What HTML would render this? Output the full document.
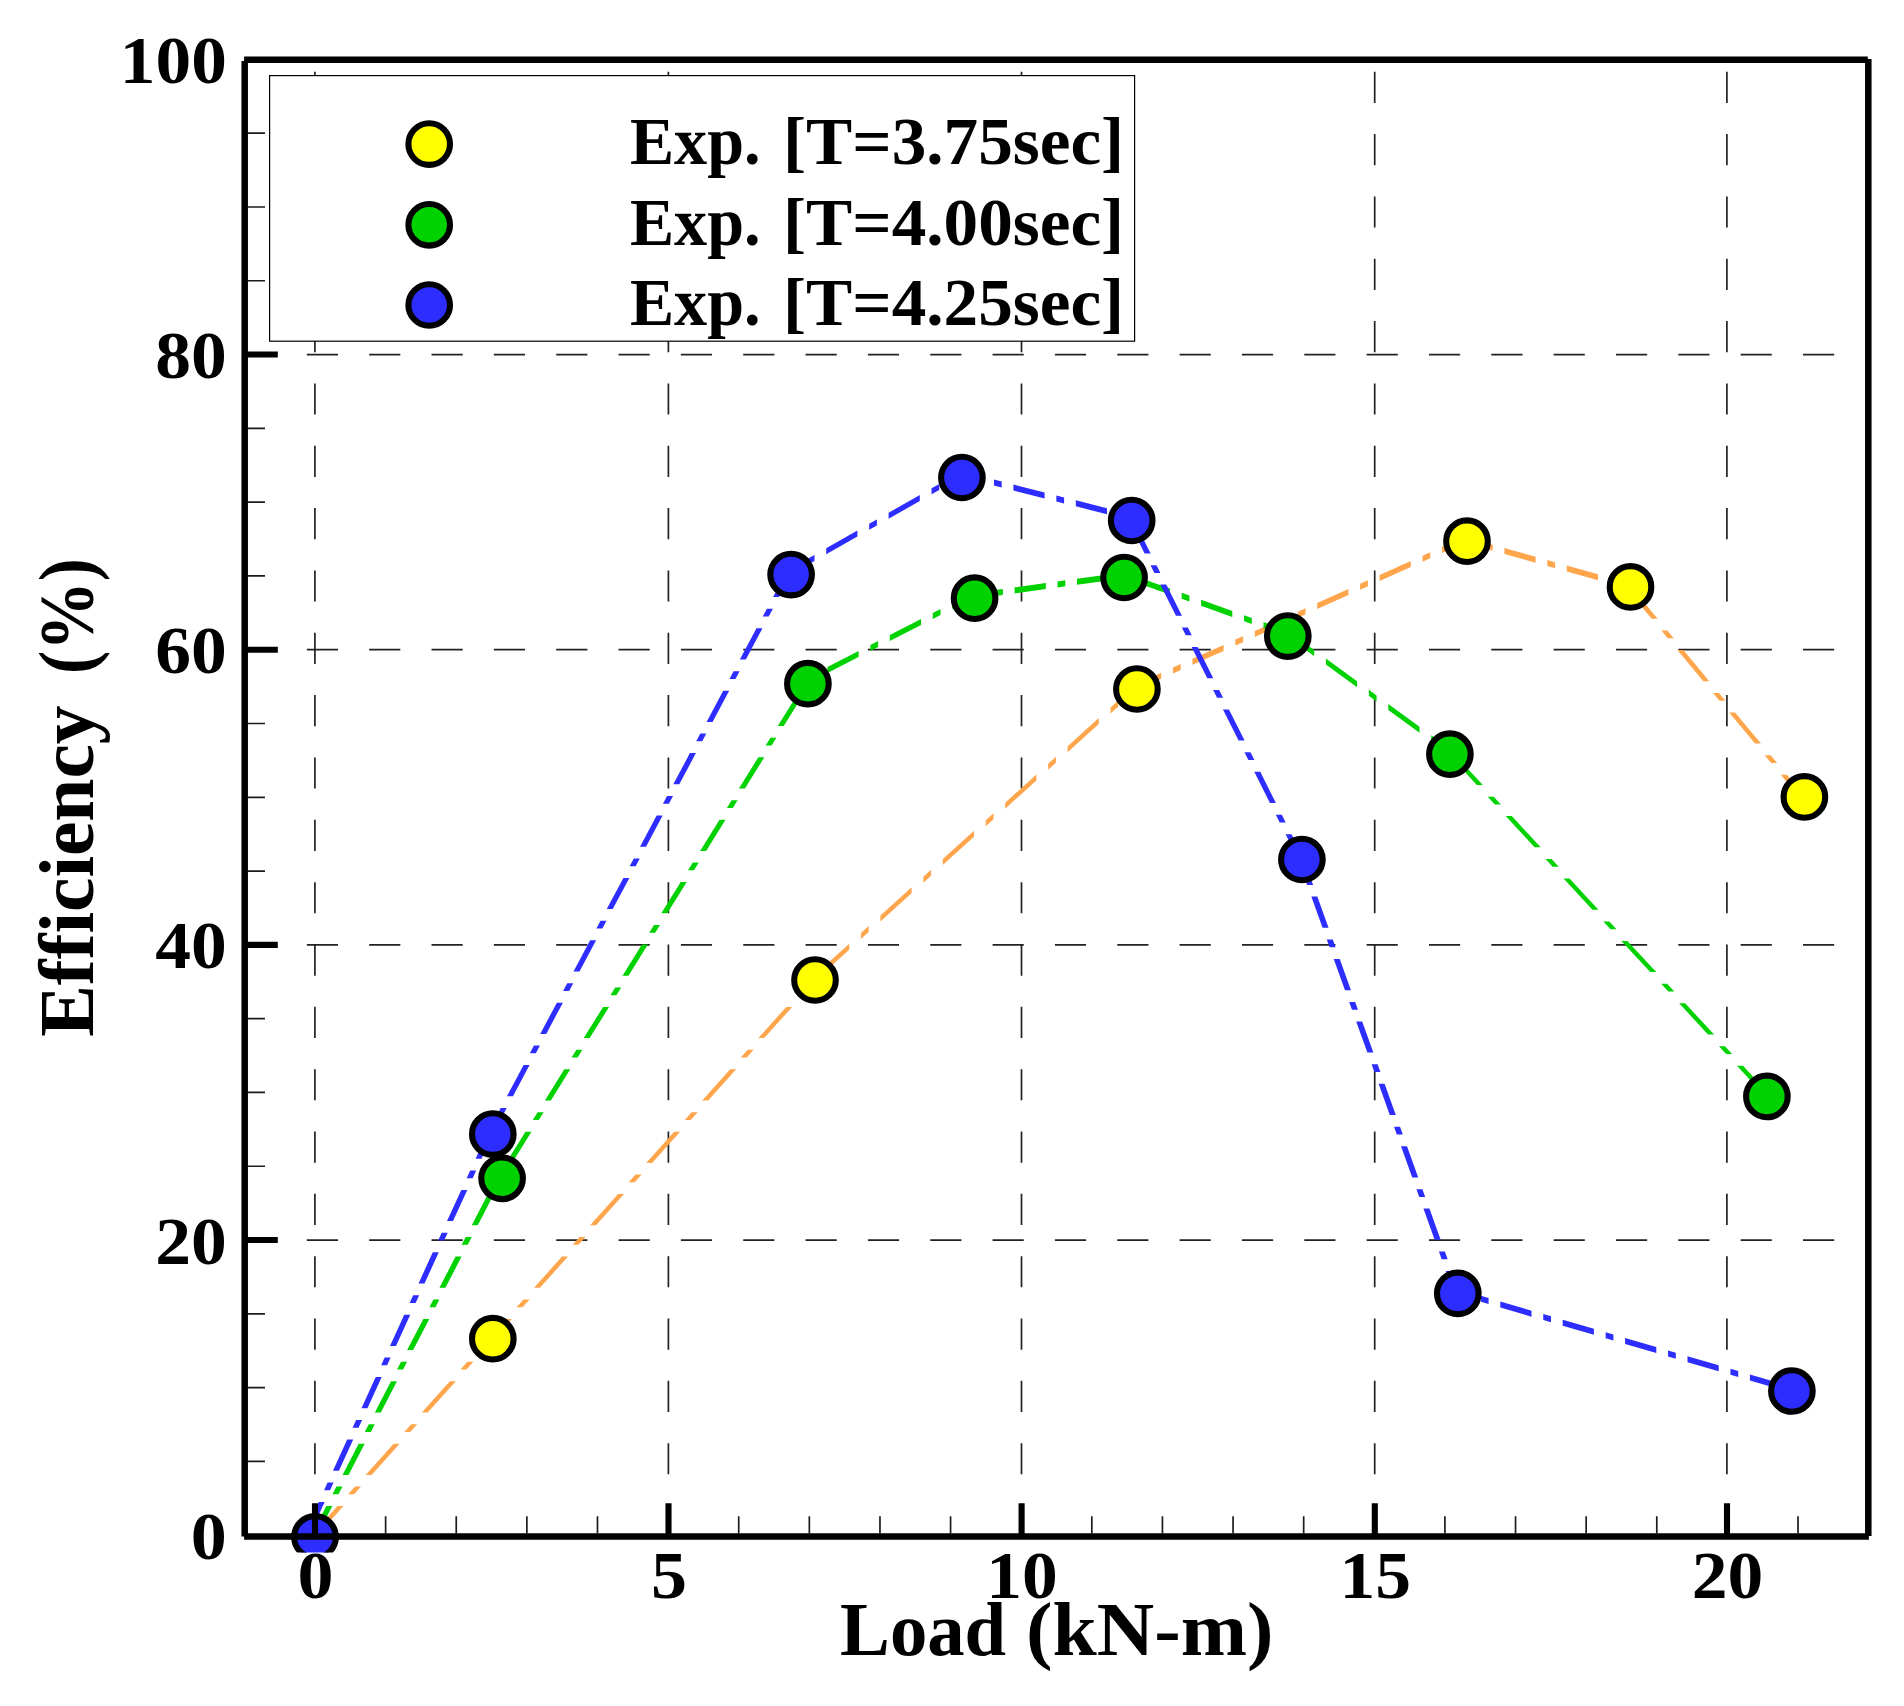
<!DOCTYPE html>
<html lang="en"><head><meta charset="utf-8"><title>Efficiency vs Load</title>
<style>html,body{margin:0;padding:0;background:#fff}svg{display:block}text{font-family:"Liberation Serif",serif;font-weight:bold;fill:#000;font-variant-ligatures:none}</style>
</head><body>
<svg width="1904" height="1706" viewBox="0 0 1904 1706">
<rect width="1904" height="1706" fill="#fff"/>
<g stroke="#222" stroke-width="1.7" fill="none">
<line x1="314.9" y1="1536.7" x2="314.9" y2="60.0" stroke-dasharray="31.17 31.17"/>
<line x1="668.4" y1="1536.7" x2="668.4" y2="60.0" stroke-dasharray="31.17 31.17"/>
<line x1="1021.5" y1="1536.7" x2="1021.5" y2="60.0" stroke-dasharray="31.17 31.17"/>
<line x1="1374.7" y1="1536.7" x2="1374.7" y2="60.0" stroke-dasharray="31.17 31.17"/>
<line x1="1726.9" y1="1536.7" x2="1726.9" y2="60.0" stroke-dasharray="31.17 31.17"/>
<line x1="244.5" y1="1240.04" x2="1864" y2="1240.04" stroke-dasharray="31.17 31.17"/>
<line x1="244.5" y1="944.88" x2="1864" y2="944.88" stroke-dasharray="31.17 31.17"/>
<line x1="244.5" y1="649.72" x2="1864" y2="649.72" stroke-dasharray="31.17 31.17"/>
<line x1="244.5" y1="354.56" x2="1864" y2="354.56" stroke-dasharray="31.17 31.17"/>
</g>
<defs><clipPath id="mclip"><rect x="0" y="0" width="1904" height="1552.6"/></clipPath></defs>
<g clip-path="url(#mclip)">
<path fill="#FFA64D" d="M310.4 1536.2L316.4 1536.2L343.5 1506.1L337.5 1506.1ZM348.08 1494.35L354.08 1494.35L361.05 1486.6L355.05 1486.6ZM365.59 1474.9L371.59 1474.9L399.67 1443.7L393.67 1443.7ZM404.25 1431.95L410.25 1431.95L417.23 1424.2L411.23 1424.2ZM421.76 1412.5L427.76 1412.5L455.85 1381.3L449.85 1381.3ZM460.43 1369.55L466.43 1369.55L473.4 1361.8L467.4 1361.8ZM477.94 1350.1L483.94 1350.1L494.2 1338.7L488.2 1338.7ZM488.2 1338.7L494.2 1338.7L511.99 1318.9L505.99 1318.9ZM516.54 1307.15L522.54 1307.15L529.5 1299.4L523.5 1299.4ZM534.01 1287.7L540.01 1287.7L568.04 1256.5L562.04 1256.5ZM572.59 1244.75L578.59 1244.75L585.55 1237L579.55 1237ZM590.06 1225.3L596.06 1225.3L624.09 1194.1L618.09 1194.1ZM628.64 1182.35L634.64 1182.35L641.6 1174.6L635.6 1174.6ZM646.11 1162.9L652.11 1162.9L680.14 1131.7L674.14 1131.7ZM684.69 1119.95L690.69 1119.95L697.65 1112.2L691.65 1112.2ZM702.16 1100.5L708.16 1100.5L736.19 1069.3L730.19 1069.3ZM740.74 1057.55L746.74 1057.55L753.7 1049.8L747.7 1049.8ZM758.21 1038.1L764.21 1038.1L792.24 1006.9L786.24 1006.9ZM796.79 995.15L802.79 995.15L809.75 987.4L803.75 987.4ZM818 971.89L849.2 943.68L849.2 949.68L818 977.89ZM860.95 933.06L868.7 926.05L868.7 932.05L860.95 939.06ZM880.4 915.48L911.6 887.27L911.6 893.27L880.4 921.48ZM923.35 876.65L931.1 869.64L931.1 875.64L923.35 882.65ZM942.8 859.07L974 830.86L974 836.86L942.8 865.07ZM985.75 820.24L993.5 813.23L993.5 819.23L985.75 826.24ZM1005.2 802.66L1036.4 774.45L1036.4 780.45L1005.2 808.66ZM1048.15 763.83L1055.9 756.82L1055.9 762.82L1048.15 769.83ZM1067.6 746.25L1098.8 718.04L1098.8 724.04L1067.6 752.25ZM1110.55 707.42L1118.3 700.41L1118.3 706.41L1110.55 713.42ZM1130 689.84L1136.9 683.6L1136.9 689.6L1130 695.84ZM1136.9 683.7L1161.2 672.82L1161.2 678.82L1136.9 689.7ZM1172.95 667.56L1180.7 664.09L1180.7 670.09L1172.95 673.56ZM1192.4 658.85L1223.6 644.88L1223.6 650.88L1192.4 664.85ZM1235.35 639.62L1243.1 636.15L1243.1 642.15L1235.35 645.62ZM1254.8 630.91L1286 616.94L1286 622.94L1254.8 636.91ZM1297.75 611.68L1305.5 608.21L1305.5 614.21L1297.75 617.68ZM1317.2 602.97L1348.4 589L1348.4 595L1317.2 608.97ZM1360.15 583.74L1367.9 580.27L1367.9 586.27L1360.15 589.74ZM1379.6 575.03L1410.8 561.06L1410.8 567.06L1379.6 581.03ZM1422.55 555.8L1430.3 552.33L1430.3 558.33L1422.55 561.8ZM1442 547.09L1467 535.9L1467 541.9L1442 553.09ZM1467 537.6L1473.2 539.33L1473.2 545.33L1467 543.6ZM1484.95 542.62L1492.7 544.78L1492.7 550.78L1484.95 548.62ZM1504.4 548.05L1535.6 556.77L1535.6 562.77L1504.4 554.05ZM1547.35 560.06L1555.1 562.22L1555.1 568.22L1547.35 566.06ZM1566.8 565.5L1598 574.22L1598 580.22L1566.8 571.5ZM1609.75 577.5L1617.5 579.67L1617.5 585.67L1609.75 583.5ZM1629.2 582.94L1630.5 583.3L1630.5 589.3L1629.2 588.94ZM1625.78 587.6L1631.78 587.6L1657.62 618.8L1651.62 618.8ZM1661.35 630.55L1667.35 630.55L1673.76 638.3L1667.76 638.3ZM1677.45 650L1683.45 650L1709.29 681.2L1703.29 681.2ZM1713.02 692.95L1719.02 692.95L1725.44 700.7L1719.44 700.7ZM1729.13 712.4L1735.13 712.4L1760.96 743.6L1754.96 743.6ZM1764.69 755.35L1770.69 755.35L1777.11 763.1L1771.11 763.1ZM1780.8 774.8L1786.8 774.8L1805.1 796.9L1799.1 796.9Z"/>
<circle cx="492.8" cy="1338.7" r="20.8" fill="#FFFF00" stroke="#000" stroke-width="6.1"/><circle cx="815" cy="980" r="20.8" fill="#FFFF00" stroke="#000" stroke-width="6.1"/><circle cx="1136.9" cy="689" r="20.8" fill="#FFFF00" stroke="#000" stroke-width="6.1"/><circle cx="1467" cy="541.2" r="20.8" fill="#FFFF00" stroke="#000" stroke-width="6.1"/><circle cx="1630.5" cy="586.9" r="20.8" fill="#FFFF00" stroke="#000" stroke-width="6.1"/><circle cx="1804.4" cy="796.9" r="20.8" fill="#FFFF00" stroke="#000" stroke-width="6.1"/>
<path fill="#00D200" d="M310.8 1536.2L316.8 1536.2L332.38 1506.1L326.38 1506.1ZM332.47 1494.35L338.47 1494.35L342.48 1486.6L336.48 1486.6ZM342.54 1474.9L348.54 1474.9L364.69 1443.7L358.69 1443.7ZM364.77 1431.95L370.77 1431.95L374.79 1424.2L368.79 1424.2ZM374.84 1412.5L380.84 1412.5L397 1381.3L391 1381.3ZM397.08 1369.55L403.08 1369.55L407.09 1361.8L401.09 1361.8ZM407.15 1350.1L413.15 1350.1L429.31 1318.9L423.31 1318.9ZM429.39 1307.15L435.39 1307.15L439.4 1299.4L433.4 1299.4ZM439.46 1287.7L445.46 1287.7L461.61 1256.5L455.61 1256.5ZM461.7 1244.75L467.7 1244.75L471.71 1237L465.71 1237ZM471.77 1225.3L477.77 1225.3L493.92 1194.1L487.92 1194.1ZM494 1182.35L500 1182.35L502.1 1178.3L496.1 1178.3ZM496.5 1178.3L502.5 1178.3L504.8 1174.6L498.8 1174.6ZM506.08 1162.9L512.08 1162.9L531.48 1131.7L525.48 1131.7ZM532.79 1119.95L538.79 1119.95L543.61 1112.2L537.61 1112.2ZM544.89 1100.5L550.89 1100.5L570.29 1069.3L564.29 1069.3ZM571.6 1057.55L577.6 1057.55L582.42 1049.8L576.42 1049.8ZM583.69 1038.1L589.69 1038.1L609.1 1006.9L603.1 1006.9ZM610.4 995.15L616.4 995.15L621.22 987.4L615.22 987.4ZM622.5 975.7L628.5 975.7L647.9 944.5L641.9 944.5ZM649.21 932.75L655.21 932.75L660.03 925L654.03 925ZM661.31 913.3L667.31 913.3L686.71 882.1L680.71 882.1ZM688.02 870.35L694.02 870.35L698.84 862.6L692.84 862.6ZM700.12 850.9L706.12 850.9L725.52 819.7L719.52 819.7ZM726.83 807.95L732.83 807.95L737.65 800.2L731.65 800.2ZM738.92 788.5L744.92 788.5L764.33 757.3L758.33 757.3ZM765.63 745.55L771.63 745.55L776.45 737.8L770.45 737.8ZM777.73 726.1L783.73 726.1L803.13 694.9L797.13 694.9ZM807.95 677.07L815.7 673.1L815.7 679.1L807.95 683.07ZM827.4 667.1L858.6 651.1L858.6 657.1L827.4 673.1ZM870.35 645.07L878.1 641.09L878.1 647.09L870.35 651.07ZM889.8 635.09L921 619.09L921 625.09L889.8 641.09ZM932.75 613.06L940.5 609.09L940.5 615.09L932.75 619.06ZM952.2 603.09L974.6 591.6L974.6 597.6L952.2 609.09ZM974.6 592.9L983.4 591.68L983.4 597.68L974.6 598.9ZM995.15 590.05L1002.9 588.98L1002.9 594.98L995.15 596.05ZM1014.6 587.36L1045.8 583.04L1045.8 589.04L1014.6 593.36ZM1057.55 581.41L1065.3 580.34L1065.3 586.34L1057.55 587.41ZM1077 578.72L1108.2 574.4L1108.2 580.4L1077 584.72ZM1119.95 572.77L1124.1 572.2L1124.1 578.2L1119.95 578.77ZM1124.1 572.2L1127 573.24L1127 579.24L1124.1 578.2ZM1138.7 577.43L1169.9 588.6L1169.9 594.6L1138.7 583.43ZM1181.65 592.8L1189.4 595.58L1189.4 601.58L1181.65 598.8ZM1201.1 599.76L1232.3 610.93L1232.3 616.93L1201.1 605.76ZM1244.05 615.14L1251.8 617.91L1251.8 623.91L1244.05 621.14ZM1263.5 622.1L1287.8 630.8L1287.8 636.8L1263.5 628.1ZM1287.8 630.8L1294.7 635.83L1294.7 641.83L1287.8 636.8ZM1306.45 644.39L1314.2 650.03L1314.2 656.03L1306.45 650.39ZM1325.9 658.56L1357.1 681.29L1357.1 687.29L1325.9 664.56ZM1368.85 689.85L1376.6 695.5L1376.6 701.5L1368.85 695.85ZM1388.3 704.02L1419.5 726.75L1419.5 732.75L1388.3 710.02ZM1431.25 735.31L1439 740.96L1439 746.96L1431.25 741.31ZM1448.4 754.2L1454.4 754.2L1482.84 784.9L1476.84 784.9ZM1487.72 796.65L1493.72 796.65L1500.9 804.4L1494.9 804.4ZM1505.74 816.1L1511.74 816.1L1540.64 847.3L1534.64 847.3ZM1545.53 859.05L1551.53 859.05L1558.71 866.8L1552.71 866.8ZM1563.55 878.5L1569.55 878.5L1598.45 909.7L1592.45 909.7ZM1603.33 921.45L1609.33 921.45L1616.51 929.2L1610.51 929.2ZM1621.35 940.9L1627.35 940.9L1656.25 972.1L1650.25 972.1ZM1661.14 983.85L1667.14 983.85L1674.32 991.6L1668.32 991.6ZM1679.16 1003.3L1685.16 1003.3L1714.06 1034.5L1708.06 1034.5ZM1718.94 1046.25L1724.94 1046.25L1732.12 1054L1726.12 1054ZM1736.96 1065.7L1742.96 1065.7L1771.4 1096.4L1765.4 1096.4Z"/>
<circle cx="502.1" cy="1178.3" r="20.8" fill="#00D200" stroke="#000" stroke-width="6.1"/><circle cx="807.9" cy="683.7" r="20.8" fill="#00D200" stroke="#000" stroke-width="6.1"/><circle cx="974.6" cy="598.2" r="20.8" fill="#00D200" stroke="#000" stroke-width="6.1"/><circle cx="1124.1" cy="577.5" r="20.8" fill="#00D200" stroke="#000" stroke-width="6.1"/><circle cx="1287.8" cy="636.1" r="20.8" fill="#00D200" stroke="#000" stroke-width="6.1"/><circle cx="1449.9" cy="754.2" r="20.8" fill="#00D200" stroke="#000" stroke-width="6.1"/><circle cx="1766.9" cy="1096.4" r="20.8" fill="#00D200" stroke="#000" stroke-width="6.1"/>
<path fill="#2D2DFF" d="M304.42 1533.1L310.42 1533.1L324.68 1501.9L318.68 1501.9ZM324.05 1490.15L330.05 1490.15L333.59 1482.4L327.59 1482.4ZM332.94 1470.7L338.94 1470.7L353.2 1439.5L347.2 1439.5ZM352.57 1427.75L358.57 1427.75L362.12 1420L356.12 1420ZM361.46 1408.3L367.46 1408.3L381.72 1377.1L375.72 1377.1ZM381.1 1365.35L387.1 1365.35L390.64 1357.6L384.64 1357.6ZM389.99 1345.9L395.99 1345.9L410.25 1314.7L404.25 1314.7ZM409.62 1302.95L415.62 1302.95L419.16 1295.2L413.16 1295.2ZM418.51 1283.5L424.51 1283.5L438.77 1252.3L432.77 1252.3ZM438.14 1240.55L444.14 1240.55L447.68 1232.8L441.68 1232.8ZM447.03 1221.1L453.03 1221.1L467.29 1189.9L461.29 1189.9ZM466.66 1178.15L472.66 1178.15L476.21 1170.4L470.21 1170.4ZM475.56 1158.7L481.56 1158.7L492.8 1134.1L486.8 1134.1ZM486.8 1134.1L492.8 1134.1L496.32 1127.5L490.32 1127.5ZM496.58 1115.75L502.58 1115.75L506.72 1108L500.72 1108ZM506.95 1096.3L512.95 1096.3L529.59 1065.1L523.59 1065.1ZM529.85 1053.35L535.85 1053.35L539.98 1045.6L533.98 1045.6ZM540.22 1033.9L546.22 1033.9L562.86 1002.7L556.86 1002.7ZM563.12 990.95L569.12 990.95L573.25 983.2L567.25 983.2ZM573.49 971.5L579.49 971.5L596.13 940.3L590.13 940.3ZM596.39 928.55L602.39 928.55L606.52 920.8L600.52 920.8ZM606.76 909.1L612.76 909.1L629.39 877.9L623.39 877.9ZM629.66 866.15L635.66 866.15L639.79 858.4L633.79 858.4ZM640.03 846.7L646.03 846.7L662.66 815.5L656.66 815.5ZM662.93 803.75L668.93 803.75L673.06 796L667.06 796ZM673.3 784.3L679.3 784.3L695.93 753.1L689.93 753.1ZM696.2 741.35L702.2 741.35L706.33 733.6L700.33 733.6ZM706.57 721.9L712.57 721.9L729.2 690.7L723.2 690.7ZM729.47 678.95L735.47 678.95L739.6 671.2L733.6 671.2ZM739.84 659.5L745.84 659.5L762.47 628.3L756.47 628.3ZM762.73 616.55L768.73 616.55L772.87 608.8L766.87 608.8ZM773.1 597.1L779.1 597.1L791.1 574.6L785.1 574.6ZM791.1 568.2L795 565.98L795 571.98L791.1 574.2ZM806.75 559.3L814.5 554.9L814.5 560.9L806.75 565.3ZM826.2 548.25L857.4 530.51L857.4 536.51L826.2 554.25ZM869.15 523.83L876.9 519.42L876.9 525.42L869.15 529.83ZM888.6 512.77L919.8 495.03L919.8 501.03L888.6 518.77ZM931.55 488.35L939.3 483.95L939.3 489.95L931.55 494.35ZM951 477.3L961.9 471.1L961.9 477.1L951 483.3ZM961.9 471.5L982.2 476.64L982.2 482.64L961.9 477.5ZM993.95 479.62L1001.7 481.58L1001.7 487.58L993.95 485.62ZM1013.4 484.54L1044.6 492.44L1044.6 498.44L1013.4 490.54ZM1056.35 495.42L1064.1 497.38L1064.1 503.38L1056.35 501.42ZM1075.8 500.34L1107 508.24L1107 514.24L1075.8 506.34ZM1118.75 511.22L1126.5 513.18L1126.5 519.18L1118.75 517.22ZM1128.95 522.2L1134.95 522.2L1150.62 553.4L1144.62 553.4ZM1150.52 565.15L1156.52 565.15L1160.41 572.9L1154.41 572.9ZM1160.28 584.6L1166.28 584.6L1181.95 615.8L1175.95 615.8ZM1181.85 627.55L1187.85 627.55L1191.74 635.3L1185.74 635.3ZM1191.61 647L1197.61 647L1213.28 678.2L1207.28 678.2ZM1213.17 689.95L1219.17 689.95L1223.07 697.7L1217.07 697.7ZM1222.94 709.4L1228.94 709.4L1244.6 740.6L1238.6 740.6ZM1244.5 752.35L1250.5 752.35L1254.39 760.1L1248.39 760.1ZM1254.27 771.8L1260.27 771.8L1275.93 803L1269.93 803ZM1275.83 814.75L1281.83 814.75L1285.72 822.5L1279.72 822.5ZM1285.6 834.2L1291.6 834.2L1304.3 859.5L1298.3 859.5ZM1298 859.5L1304 859.5L1306.12 865.4L1300.12 865.4ZM1304.34 877.15L1310.34 877.15L1313.13 884.9L1307.13 884.9ZM1311.33 896.6L1317.33 896.6L1328.54 927.8L1322.54 927.8ZM1326.76 939.55L1332.76 939.55L1335.55 947.3L1329.55 947.3ZM1333.75 959L1339.75 959L1350.96 990.2L1344.96 990.2ZM1349.18 1001.95L1355.18 1001.95L1357.97 1009.7L1351.97 1009.7ZM1356.17 1021.4L1362.17 1021.4L1373.38 1052.6L1367.38 1052.6ZM1371.6 1064.35L1377.6 1064.35L1380.39 1072.1L1374.39 1072.1ZM1378.59 1083.8L1384.59 1083.8L1395.8 1115L1389.8 1115ZM1394.02 1126.75L1400.02 1126.75L1402.81 1134.5L1396.81 1134.5ZM1401.01 1146.2L1407.01 1146.2L1418.22 1177.4L1412.22 1177.4ZM1416.44 1189.15L1422.44 1189.15L1425.23 1196.9L1419.23 1196.9ZM1423.43 1208.6L1429.43 1208.6L1440.64 1239.8L1434.64 1239.8ZM1438.86 1251.55L1444.86 1251.55L1447.65 1259.3L1441.65 1259.3ZM1445.85 1271L1451.85 1271L1459.9 1293.4L1453.9 1293.4ZM1457.8 1289.1L1469.1 1292.4L1469.1 1298.4L1457.8 1295.1ZM1480.85 1295.83L1488.6 1298.1L1488.6 1304.1L1480.85 1301.83ZM1500.3 1301.52L1531.5 1310.63L1531.5 1316.63L1500.3 1307.52ZM1543.25 1314.06L1551 1316.33L1551 1322.33L1543.25 1320.06ZM1562.7 1319.74L1593.9 1328.86L1593.9 1334.86L1562.7 1325.74ZM1605.65 1332.29L1613.4 1334.56L1613.4 1340.56L1605.65 1338.29ZM1625.1 1337.97L1656.3 1347.09L1656.3 1353.09L1625.1 1343.97ZM1668.05 1350.52L1675.8 1352.78L1675.8 1358.78L1668.05 1356.52ZM1687.5 1356.2L1718.7 1365.32L1718.7 1371.32L1687.5 1362.2ZM1730.45 1368.75L1738.2 1371.01L1738.2 1377.01L1730.45 1374.75ZM1749.9 1374.43L1781.1 1383.55L1781.1 1389.55L1749.9 1380.43Z"/>
<circle cx="315" cy="1536.9" r="20.8" fill="#2D2DFF" stroke="#000" stroke-width="6.1"/><circle cx="492.8" cy="1134.1" r="20.8" fill="#2D2DFF" stroke="#000" stroke-width="6.1"/><circle cx="791.1" cy="574.6" r="20.8" fill="#2D2DFF" stroke="#000" stroke-width="6.1"/><circle cx="961.9" cy="477.5" r="20.8" fill="#2D2DFF" stroke="#000" stroke-width="6.1"/><circle cx="1131.7" cy="520.5" r="20.8" fill="#2D2DFF" stroke="#000" stroke-width="6.1"/><circle cx="1301.9" cy="859.5" r="20.8" fill="#2D2DFF" stroke="#000" stroke-width="6.1"/><circle cx="1457.8" cy="1293.4" r="20.8" fill="#2D2DFF" stroke="#000" stroke-width="6.1"/><circle cx="1791.9" cy="1391" r="20.8" fill="#2D2DFF" stroke="#000" stroke-width="6.1"/>
</g>
<g stroke="#000" fill="none">
<path stroke-width="6.5" d="M244.7 61.1V1536.6M244.1 59.85H1867.8M1868.3 59.1V1536.1M244.1 1536.4H1868.9"/>
<path stroke-width="6.1" d="M315 1536.4V1503.3M668.5 1536.4V1503.3M1021.6 1536.4V1503.3M1374.8 1536.4V1503.3M1727 1536.4V1503.3M244.75 1240.04H277.8M244.75 944.88H277.8M244.75 649.72H277.8M244.75 354.56H277.8"/>
<path stroke-width="1.7" stroke="#1c1c1c" d="M385.62 1533.4V1516.2M456.24 1533.4V1516.2M526.86 1533.4V1516.2M597.48 1533.4V1516.2M738.72 1533.4V1516.2M809.34 1533.4V1516.2M879.96 1533.4V1516.2M950.58 1533.4V1516.2M1091.82 1533.4V1516.2M1162.44 1533.4V1516.2M1233.06 1533.4V1516.2M1303.68 1533.4V1516.2M1444.92 1533.4V1516.2M1515.54 1533.4V1516.2M1586.16 1533.4V1516.2M1656.78 1533.4V1516.2M1798.02 1533.4V1516.2M247.75 1461.41H265M247.75 1387.62H265M247.75 1313.83H265M247.75 1166.25H265M247.75 1092.46H265M247.75 1018.67H265M247.75 871.09H265M247.75 797.3H265M247.75 723.51H265M247.75 575.93H265M247.75 502.14H265M247.75 428.35H265M247.75 280.77H265M247.75 206.98H265M247.75 133.19H265"/>
</g>
<rect x="269.6" y="75.6" width="865" height="265.6" fill="#fff" stroke="#000" stroke-width="1.2"/>
<circle cx="429.2" cy="144.1" r="20.8" fill="#FFFF00" stroke="#000" stroke-width="6.1"/>
<circle cx="429.2" cy="224.8" r="20.8" fill="#00D200" stroke="#000" stroke-width="6.1"/>
<circle cx="429.2" cy="305" r="20.8" fill="#2D2DFF" stroke="#000" stroke-width="6.1"/>
<text y="164.3" font-size="67.5"><tspan x="629.88" textLength="130.64" lengthAdjust="spacingAndGlyphs">Exp.</tspan> <tspan x="783" textLength="341.16" lengthAdjust="spacingAndGlyphs">[T=3.75sec]</tspan></text>
<text y="244.6" font-size="67.5"><tspan x="629.88" textLength="130.64" lengthAdjust="spacingAndGlyphs">Exp.</tspan> <tspan x="783" textLength="341.16" lengthAdjust="spacingAndGlyphs">[T=4.00sec]</tspan></text>
<text y="324.6" font-size="67.5"><tspan x="629.88" textLength="130.64" lengthAdjust="spacingAndGlyphs">Exp.</tspan> <tspan x="783" textLength="341.16" lengthAdjust="spacingAndGlyphs">[T=4.25sec]</tspan></text>
<text x="226.8" y="1558.8" font-size="67.2" text-anchor="end" textLength="36" lengthAdjust="spacingAndGlyphs">0</text>
<text x="226.8" y="1263.64" font-size="67.2" text-anchor="end" textLength="71.5" lengthAdjust="spacingAndGlyphs">20</text>
<text x="226.8" y="968.48" font-size="67.2" text-anchor="end" textLength="71.5" lengthAdjust="spacingAndGlyphs">40</text>
<text x="226.8" y="673.32" font-size="67.2" text-anchor="end" textLength="71.5" lengthAdjust="spacingAndGlyphs">60</text>
<text x="226.8" y="378.16" font-size="67.2" text-anchor="end" textLength="71.5" lengthAdjust="spacingAndGlyphs">80</text>
<text x="226.8" y="83" font-size="67.2" text-anchor="end" textLength="107" lengthAdjust="spacingAndGlyphs">100</text>
<text x="315.4" y="1597.6" font-size="67.2" text-anchor="middle" textLength="36" lengthAdjust="spacingAndGlyphs">0</text>
<text x="668.9" y="1597.6" font-size="67.2" text-anchor="middle" textLength="36" lengthAdjust="spacingAndGlyphs">5</text>
<text x="1022" y="1597.6" font-size="67.2" text-anchor="middle" textLength="71.5" lengthAdjust="spacingAndGlyphs">10</text>
<text x="1375.2" y="1597.6" font-size="67.2" text-anchor="middle" textLength="71.5" lengthAdjust="spacingAndGlyphs">15</text>
<text x="1727.4" y="1597.6" font-size="67.2" text-anchor="middle" textLength="71.5" lengthAdjust="spacingAndGlyphs">20</text>
<text y="1655.2" font-size="76.5"><tspan x="840.09" textLength="166.02" lengthAdjust="spacingAndGlyphs">Load</tspan> <tspan x="1026.05" textLength="247.54" lengthAdjust="spacingAndGlyphs">(kN-m)</tspan></text>
<text transform="translate(93 797.4) rotate(-90)" y="0" font-size="77.5"><tspan x="-239.46" textLength="331.46" lengthAdjust="spacingAndGlyphs">Efficiency</tspan> <tspan x="123.47" textLength="115.8" lengthAdjust="spacingAndGlyphs">(%)</tspan></text>
</svg></body></html>
